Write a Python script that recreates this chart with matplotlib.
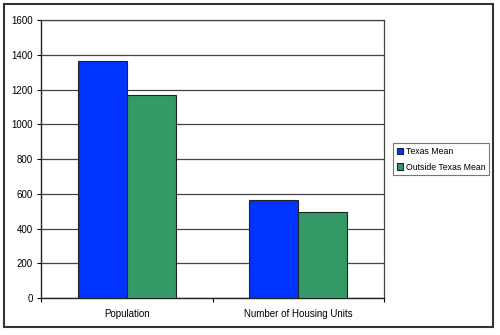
import numpy as np
import matplotlib
matplotlib.use('Agg')
import matplotlib.pyplot as plt
from matplotlib.patches import Rectangle

plt.rcParams['font.family'] = ['Liberation Sans', 'DejaVu Sans']

categories = ['Population', 'Number of Housing Units']
texas_mean = [1365, 565]
outside_mean = [1166, 496]
series_names = ['Texas Mean', 'Outside Texas Mean']

blue = '#0033ff'
green = '#339966'

fig = plt.figure(figsize=(5, 3.35), dpi=100)
ax = fig.add_axes([0.082, 0.1104, 0.686, 0.8296])

x = np.arange(len(categories))
w = 0.286
ax.bar(x - w / 2, texas_mean, w, color=blue, edgecolor='#222222', linewidth=0.8,
       label=series_names[0], zorder=3)
ax.bar(x + w / 2, outside_mean, w, color=green, edgecolor='#222222', linewidth=0.8,
       label=series_names[1], zorder=3)

ax.set_xlim(-0.5, 1.5)
ax.set_ylim(0, 1600)
ax.set_yticks(np.arange(0, 1601, 200))
ax.yaxis.grid(True, color='#444444', linewidth=0.9, zorder=0)
ax.set_axisbelow(True)

# category labels between tick marks at the group boundaries
ax.set_xticks([-0.5, 0.5, 1.5])
ax.set_xticklabels([])
ax.set_xticks(x, minor=True)
ax.set_xticklabels(categories, minor=True)
ax.tick_params(axis='x', which='minor', length=0, pad=8, labelsize=7)
ax.tick_params(axis='x', which='major', length=3, direction='out', width=0.8)
ax.tick_params(axis='y', length=3, direction='out', width=0.8, labelsize=7, pad=3)

for side in ['left', 'bottom']:
    ax.spines[side].set_color('#222222')
    ax.spines[side].set_linewidth(1.0)
for side in ['top', 'right']:
    ax.spines[side].set_color('#444444')
    ax.spines[side].set_linewidth(0.9)

leg = fig.legend(loc='upper left', bbox_to_anchor=(0.786, 0.573), fontsize=6.3,
                 frameon=True, fancybox=False, handlelength=0.7, handleheight=0.7,
                 handletextpad=0.3, borderpad=0.45, labelspacing=0.75,
                 borderaxespad=0)
leg.get_frame().set_edgecolor('#555555')
leg.get_frame().set_linewidth(0.8)

# outer border around the chart area
fig.patches.append(Rectangle((0.008, 0.024), 0.978, 0.964, transform=fig.transFigure,
                             fill=False, edgecolor='#333333', linewidth=1.5))

fig.savefig('out.png', dpi=100)
